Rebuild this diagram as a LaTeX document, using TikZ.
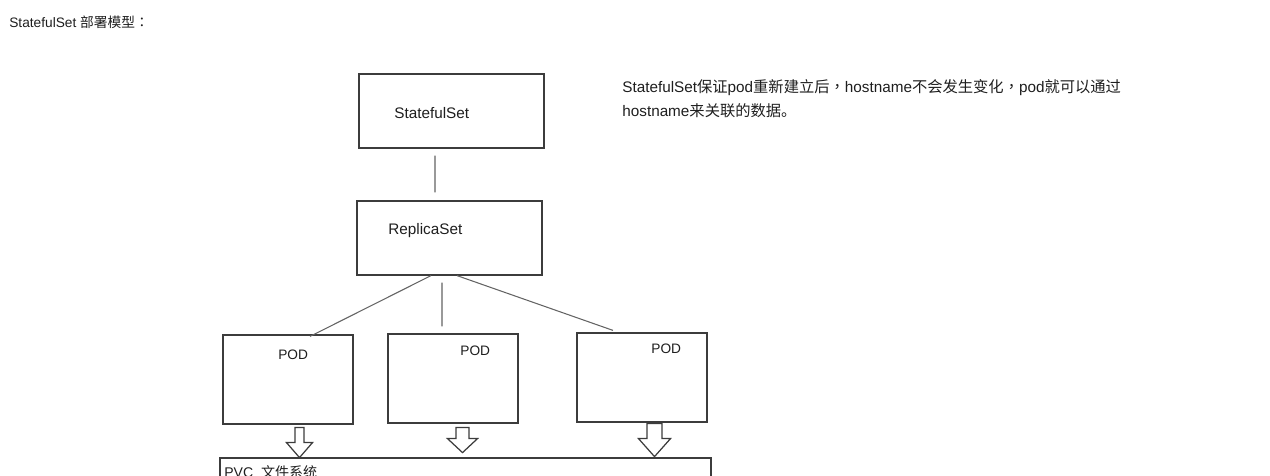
\documentclass[tikz,border=0pt]{standalone}
\usepackage{fontspec}
\setmainfont{Liberation Sans}
\newfontfamily\cjk{Noto Sans CJK SC}
\newfontfamily\cjkp{Noto Sans CJK TC}
\definecolor{edge}{RGB}{60,60,60}
\definecolor{ink}{RGB}{30,30,30}

\begin{document}
\begin{tikzpicture}[x=0.02cm, y=-0.02cm,
	box/.style={draw=edge, line width=0.7pt, inner sep=0pt},
	link/.style={draw=edge!80, line width=0.6pt},
	lbl/.style={anchor=base west, inner sep=0pt, text=ink, font=\fontsize{8.7}{10}\selectfont},
	blockarrow/.style={draw=edge, line width=0.7pt, fill=white}]

	\useasboundingbox (0,0) rectangle (1270,476);

	\node[lbl, font=\fontsize{7.8}{10}\selectfont] (title) at (9,28) {StatefulSet {\cjk 部署模型}{\cjkp ：}};

	% boxes
	\node[box, minimum width=3.7cm, minimum height=1.48cm] (ss) at (451.5,111) {};
	\node[box, minimum width=3.7cm, minimum height=1.48cm] (rs) at (449.5,238) {};
	\node[box, minimum width=2.6cm, minimum height=1.78cm] (pod1) at (288,379.5) {};
	\node[box, minimum width=2.6cm, minimum height=1.78cm] (pod2) at (453,378.5) {};
	\node[box, minimum width=2.6cm, minimum height=1.78cm] (pod3) at (642,377.5) {};
	\node[box, minimum width=9.82cm, minimum height=0.84cm] (pvc) at (465.5,479) {};

	\node[lbl] (sslbl) at (394,119) {StatefulSet};
	\node[lbl] (rslbl) at (388,235) {ReplicaSet};
	\node[lbl, font=\fontsize{7.8}{10}\selectfont] (pod1lbl) at (278,359) {POD};
	\node[lbl, font=\fontsize{7.8}{10}\selectfont] (pod2lbl) at (460,355) {POD};
	\node[lbl, font=\fontsize{7.8}{10}\selectfont] (pod3lbl) at (651,353) {POD};
	\node[lbl, font=\fontsize{8}{10}\selectfont] (pvclbl) at (224,477) {PVC\ \ {\cjk 文件系统}};

	% note
	\node[lbl] (note1) at (622,93) {StatefulSet{\cjk 保证}pod{\cjk 重新建立后}{\cjkp ，}hostname{\cjk 不会发生变化}{\cjkp ，}pod{\cjk 就可以通过}};
	\node[lbl] (note2) at (622,117) {hostname{\cjk 来关联的数据。}};

	% links
	\draw[link] ([xshift=-0.33cm,yshift=-0.14cm]ss.south) -- ([xshift=-0.29cm,yshift=0.16cm]rs.north);
	\draw[link] ([xshift=-0.37cm]rs.south) -- ([xshift=0.44cm,yshift=-0.04cm]pod1.north);
	\draw[link] ([xshift=-0.15cm,yshift=-0.14cm]rs.south) -- ([xshift=-0.22cm,yshift=0.14cm]pod2.north);
	\draw[link] ([xshift=0.15cm]rs.south) -- ([xshift=-0.58cm,yshift=0.04cm]pod3.north);

	% pod -> pvc
	\draw[blockarrow] ([xshift=0.23cm,yshift=-0.06cm]pod1.south) ++(-4.5,0) -- ++(9,0) -- ++(0,15) -- ++(8.5,0) -- ++(-13,15) -- ++(-13,-15) -- ++(8.5,0) -- cycle;
	\draw[blockarrow] ([xshift=0.19cm,yshift=-0.08cm]pod2.south) ++(-6.5,0) -- ++(13,0) -- ++(0,11) -- ++(8.5,0) -- ++(-15,14) -- ++(-15,-14) -- ++(8.5,0) -- cycle;
	\draw[blockarrow] ([xshift=0.25cm,yshift=-0.02cm]pod3.south) ++(-7.5,0) -- ++(15,0) -- ++(0,15) -- ++(8.5,0) -- ++(-16,18) -- ++(-16,-18) -- ++(8.5,0) -- cycle;

\end{tikzpicture}
\end{document}
